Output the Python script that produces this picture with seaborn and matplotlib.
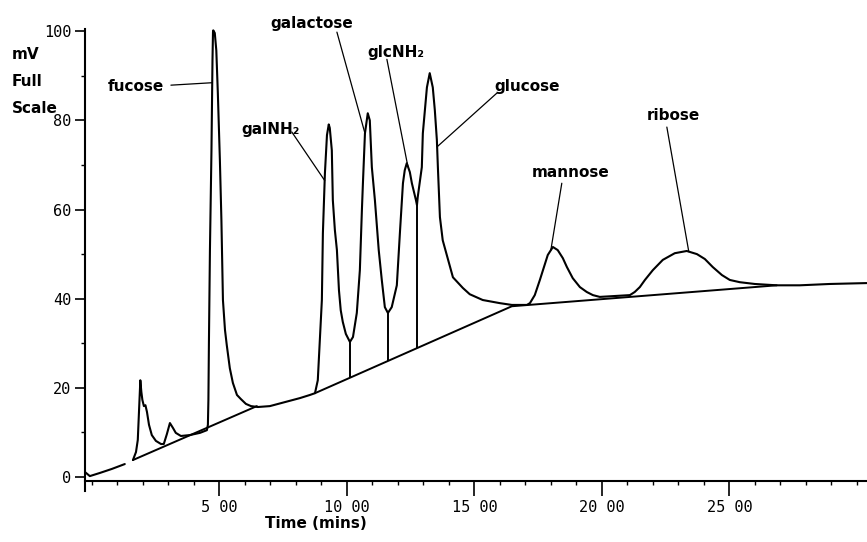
import numpy as np
import pandas as pd
import matplotlib
matplotlib.use("Agg")
import matplotlib.pyplot as plt
from matplotlib.ticker import FixedLocator, MultipleLocator
import seaborn as sns

# Detector trace: retention time (min) vs signal (mV), recorded in two pieces
pre_time = [-0.27, -0.08, 0.31, 0.78, 1.29]
pre_mv = [1.1, 0.2, 0.9, 1.8, 2.9]

run_time = [
    1.61, 1.73, 1.80, 1.84, 1.88, 1.90, 1.94, 1.98, 2.04, 2.10,
    2.16, 2.24, 2.35, 2.51, 2.71, 2.82, 2.94, 3.06, 3.18, 3.29,
    3.49, 3.84, 4.24, 4.51, 4.55, 4.57, 4.59, 4.63, 4.69, 4.73,
    4.75, 4.76, 4.82, 4.88, 4.94, 5.02, 5.08, 5.14, 5.22, 5.29,
    5.41, 5.53, 5.69, 5.84, 6.04, 6.24, 6.51, 6.98, 7.57, 8.16,
    8.55, 8.75, 8.86, 8.94, 9.02, 9.06, 9.14, 9.22, 9.29, 9.33,
    9.41, 9.45, 9.53, 9.61, 9.69, 9.76, 9.84, 9.96, 10.12, 10.24,
    10.39, 10.51, 10.59, 10.63, 10.71, 10.78, 10.82, 10.90, 10.98, 11.10,
    11.25, 11.37, 11.49, 11.61, 11.76, 11.96, 12.08, 12.20, 12.27, 12.35,
    12.47, 12.55, 12.71, 12.75, 12.78, 12.94, 12.98, 13.06, 13.14, 13.25,
    13.37, 13.45, 13.53, 13.57, 13.65, 13.76, 13.92, 14.16, 14.55, 14.82,
    15.33, 16.00, 16.47, 17.06, 17.18, 17.37, 17.57, 17.69, 17.88, 18.08,
    18.27, 18.47, 18.63, 18.86, 19.14, 19.41, 19.65, 19.92, 20.51, 21.10,
    21.29, 21.49, 21.69, 22.00, 22.39, 22.86, 23.33, 23.73, 24.04, 24.35,
    24.71, 25.02, 25.41, 26.00, 26.86, 27.76, 28.94, 30.39,
]
run_mv = [
    3.8, 5.6, 8.3, 13.9, 19.1, 21.7, 19.1, 17.3, 15.9, 16.1,
    14.6, 11.7, 9.4, 8.1, 7.4, 7.4, 9.6, 12.1, 11.0, 9.9,
    9.2, 9.4, 9.9, 10.5, 11.7, 17.3, 30.0, 50.9, 73.3, 93.5,
    99.8, 100.2, 99.6, 95.7, 86.1, 71.1, 57.6, 39.7, 33.0, 29.6,
    24.4, 21.1, 18.4, 17.5, 16.4, 15.9, 15.7, 15.9, 16.8, 17.7,
    18.4, 18.8, 21.7, 30.7, 39.7, 54.7, 68.2, 76.7, 79.1, 78.3,
    73.3, 62.1, 55.4, 50.9, 41.9, 37.4, 34.8, 32.1, 30.3, 31.4,
    36.8, 46.4, 59.9, 65.9, 77.1, 80.0, 81.6, 80.0, 69.5, 62.1,
    50.9, 44.2, 38.1, 36.8, 38.1, 43.0, 54.7, 65.9, 68.8, 70.4,
    68.4, 65.9, 62.1, 61.0, 62.8, 69.5, 77.1, 82.3, 87.4, 90.6,
    87.4, 82.3, 75.6, 69.5, 58.3, 53.1, 49.8, 44.8, 42.4, 41.0,
    39.7, 39.0, 38.6, 38.6, 39.0, 40.8, 44.2, 46.4, 49.8, 51.6,
    50.9, 49.1, 47.1, 44.6, 42.6, 41.5, 40.8, 40.4, 40.6, 40.8,
    41.5, 42.6, 44.2, 46.4, 48.7, 50.2, 50.7, 50.0, 48.9, 47.1,
    45.3, 44.2, 43.7, 43.3, 43.0, 43.0, 43.3, 43.5,
]

# Integration baselines
early_base_time = [1.61, 6.47]
early_base_mv = [3.8, 15.9]
main_base_time = [8.75, 16.47, 26.86]
main_base_mv = [18.8, 38.3, 43.0]

# Perpendicular drops between unresolved peaks
drop_time = [10.12, 11.61, 12.75]

# Peak names and the time at which each leader meets the trace
peak_names = ["fucose", "galNH₂", "galactose", "glcNH₂", "glucose", "mannose", "ribose"]
peak_time = [4.72, 9.13, 10.71, 12.39, 13.54, 18.00, 23.41]

# Axis ticks
major_minutes = [5, 10, 15, 20, 25]
xtick_labels = ["5 00", "10 00", "15 00", "20 00", "25 00"]
ytick_values = [0, 20, 40, 60, 80, 100]

sns.set_theme(style="ticks")
plt.rcParams["font.family"] = ["DejaVu Sans"]
plt.rcParams["axes.linewidth"] = 1.5

W, H = 867, 542
fig = plt.figure(figsize=(W / 100, H / 100), dpi=100)
ax = fig.add_axes([85 / W, 61 / H, 782 / W, 452 / H])

trace = pd.concat([
    pd.DataFrame({"time": pre_time, "mV": pre_mv, "piece": 0}),
    pd.DataFrame({"time": run_time, "mV": run_mv, "piece": 1}),
], ignore_index=True)
sns.lineplot(data=trace, x="time", y="mV", units="piece", estimator=None,
             sort=False, color="black", lw=1.5, ax=ax, legend=False)

bases = pd.concat([
    pd.DataFrame({"time": early_base_time, "mV": early_base_mv, "piece": 0}),
    pd.DataFrame({"time": main_base_time, "mV": main_base_mv, "piece": 1}),
], ignore_index=True)
sns.lineplot(data=bases, x="time", y="mV", units="piece", estimator=None,
             sort=False, color="black", lw=1.4, ax=ax, legend=False)

drop_top = np.interp(drop_time, run_time, run_mv)
drop_bottom = np.interp(drop_time, main_base_time, main_base_mv)
ax.vlines(drop_time, drop_bottom, drop_top, color="black", lw=1.4)

# Peak labels: text anchor (time, mV) and start of the leader line
label_anchor = [(2.82, 86.5), (7.00, 77.0), (8.61, 100.7), (11.92, 94.2),
                (17.08, 86.5), (18.78, 67.3), (22.80, 80.0)]
leader_start = [(3.10, 87.9), (7.84, 77.4), (9.61, 99.8), (11.57, 93.7),
                (15.88, 86.1), (18.43, 65.9), (22.55, 78.5)]
peak_mv = np.interp(peak_time, run_time, run_mv)
for i, name in enumerate(peak_names):
    tx, ty = label_anchor[i]
    lx, ly = leader_start[i]
    ax.plot([lx, peak_time[i]], [ly, peak_mv[i]], color="black", lw=0.9,
            clip_on=False)
    ax.text(tx, ty, name, ha="right" if i == 0 else "center", va="baseline",
            fontsize=11, fontweight="bold", color="black", clip_on=False)

ax.set_xlim(-0.27, 30.4)
ax.set_ylim(-0.9, 100.5)
ax.xaxis.set_major_locator(FixedLocator(major_minutes))
ax.set_xticklabels(xtick_labels)
ax.xaxis.set_minor_locator(MultipleLocator(1))
ax.yaxis.set_major_locator(FixedLocator(ytick_values))
ax.set_yticklabels([str(v) for v in ytick_values])
ax.yaxis.set_minor_locator(MultipleLocator(10))

ax.tick_params(axis="x", which="major", direction="out", length=10.8, width=1.2,
               pad=3, labelsize=11, colors="black")
ax.tick_params(axis="x", which="minor", direction="out", length=3, width=1,
               colors="black")
ax.tick_params(axis="y", which="major", direction="out", length=7.2, width=1.2,
               pad=2.5, labelsize=11, colors="black")
ax.tick_params(axis="y", which="minor", direction="out", length=3, width=1,
               colors="black")
for lbl in ax.get_xticklabels() + ax.get_yticklabels():
    lbl.set_fontfamily("DejaVu Sans Mono")

for side in ("top", "right"):
    ax.spines[side].set_visible(False)
for side in ("left", "bottom"):
    ax.spines[side].set_color("black")
ax.spines["left"].set_bounds(-3.1, 100.5)

ax.set_xlabel("Time (mins)", fontsize=11, fontweight="bold", color="black")
ax.xaxis.set_label_coords(0.295, -0.078)
ax.set_ylabel("")

fig.text(12 / W, 1 - 47 / H, "mV\nFull\nScale", ha="left", va="top",
         fontsize=11, fontweight="bold", linespacing=2.0, color="black")

fig.savefig("out.png", dpi=100, facecolor="white")
